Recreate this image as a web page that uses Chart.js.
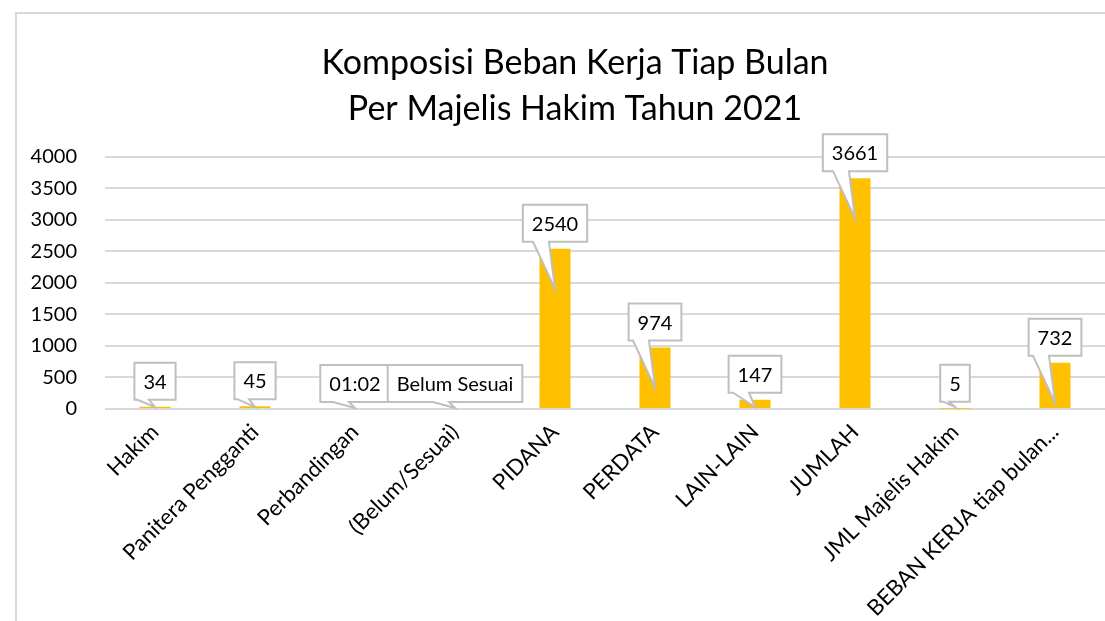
<!DOCTYPE html>
<html>
<head>
<meta charset="utf-8">
<script src="https://cdn.jsdelivr.net/npm/chart.js@4"></script>
<style>
  html, body { margin: 0; padding: 0; background: #fff; overflow: hidden; }
  #frame { position: absolute; left: 15px; top: 12px; width: 1116px; height: 700px;
           border: 2px solid #d9d9d9; border-right: none; border-bottom: none; }
  #chart { position: absolute; left: 0; top: 0; }
</style>
</head>
<body>
<div id="frame"><canvas id="chart" width="1116" height="640"></canvas></div>
<script>
// chart data
const categories = ['Hakim', 'Panitera Pengganti', 'Perbandingan', '(Belum/Sesuai)', 'PIDANA',
    'PERDATA', 'LAIN-LAIN', 'JUMLAH', 'JML Majelis Hakim', 'BEBAN KERJA tiap bulan...'];
const values = [34, 45, 0, 0, 2540, 974, 147, 3661, 5, 732];
const valueLabels = ['34', '45', '01:02', 'Belum Sesuai', '2540', '974', '147', '3661', '5', '732'];
const titleLines = ['Komposisi Beban Kerja Tiap Bulan', 'Per Majelis Hakim Tahun 2021'];
const yMax = 4000;
const yStep = 500;

const FONT = 'Lato';

// Excel-style callout data labels
const calloutPlugin = {
    id: 'callouts',
    afterDatasetsDraw(chart) {
        const ctx = chart.ctx;
        const meta = chart.getDatasetMeta(0);
        ctx.save();
        ctx.font = '20px ' + FONT;
        meta.data.forEach((bar, i) => {
            const text = valueLabels[i];
            const w = ctx.measureText(text).width + 18;
            const h = 37;
            const cx = bar.x;
            const bottom = bar.y - 7;
            const top = bottom - h;
            const left = cx - w / 2;
            const right = cx + w / 2;
            const tipY = Math.min(bar.y + 40, bar.base - 1);
            const b1 = Math.max(cx - 22, left + 3);
            const b2 = Math.min(Math.max(cx - 6, b1 + 6), right - 3);

            ctx.beginPath();
            ctx.moveTo(left, top);
            ctx.lineTo(right, top);
            ctx.lineTo(right, bottom);
            ctx.lineTo(b2, bottom);
            ctx.lineTo(cx, tipY);
            ctx.lineTo(b1, bottom);
            ctx.lineTo(left, bottom);
            ctx.closePath();
            ctx.fillStyle = '#ffffff';
            ctx.fill();
            ctx.lineWidth = 2;
            ctx.strokeStyle = '#bfbfbf';
            ctx.stroke();

            ctx.fillStyle = '#000000';
            ctx.textAlign = 'center';
            ctx.textBaseline = 'middle';
            ctx.fillText(text, cx, top + h / 2 + 1);
        });
        ctx.restore();
    }
};

const ctx = document.getElementById('chart');
new Chart(ctx.getContext('2d'), {
    type: 'bar',
    data: {
        labels: categories,
        datasets: [{
            data: values,
            backgroundColor: '#FFC000',
            borderWidth: 0,
            barPercentage: 0.31,
            categoryPercentage: 1.0
        }]
    },
    options: {
        responsive: false,
        animation: false,
        layout: { padding: 0 },
        plugins: {
            legend: { display: false },
            tooltip: { enabled: false },
            title: {
                display: true,
                text: titleLines,
                color: '#000000',
                font: { family: FONT, size: 34, weight: 'normal', lineHeight: 1.35 },
                padding: { top: 26, bottom: 25 }
            }
        },
        scales: {
            x: {
                grid: { display: false },
                border: { display: false },
                ticks: {
                    color: '#000000',
                    font: { family: FONT, size: 22 },
                    maxRotation: 45,
                    minRotation: 45,
                    autoSkip: false,
                    padding: 2
                },
                afterFit(scale) { scale.height = 245; }
            },
            y: {
                min: 0,
                max: yMax,
                ticks: {
                    stepSize: yStep,
                    color: '#000000',
                    font: { family: FONT, size: 20 },
                    padding: 28,
                    callback: (v) => String(v)
                },
                grid: { color: '#d9d9d9', lineWidth: 2, drawTicks: false },
                border: { display: false },
                afterFit(scale) { scale.width = 88; }
            },
            // empty right axis, only reserves the space right of the plot
            yRight: {
                position: 'right',
                display: true,
                grid: { display: false },
                border: { display: false },
                ticks: { display: false },
                afterFit(scale) { scale.width = 28; }
            }
        }
    },
    plugins: [calloutPlugin]
});
</script>
</body>
</html>
